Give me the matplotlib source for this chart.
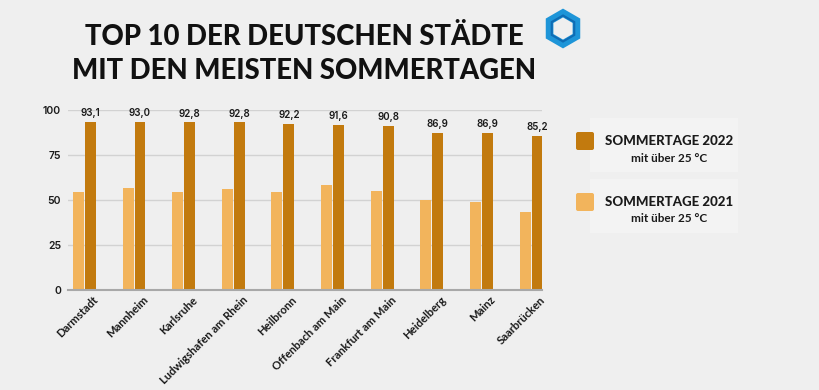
import numpy as np
import matplotlib
matplotlib.use("Agg")
import matplotlib.pyplot as plt
from matplotlib.patches import RegularPolygon, FancyBboxPatch, Rectangle

# data
cities = ["Darmstadt", "Mannheim", "Karlsruhe", "Ludwigshafen am Rhein", "Heilbronn",
          "Offenbach am Main", "Frankfurt am Main", "Heidelberg", "Mainz", "Saarbrücken"]
days_2022 = [93.1, 93.0, 92.8, 92.8, 92.2, 91.6, 90.8, 86.9, 86.9, 85.2]
days_2021 = [54.5, 56.5, 54.5, 56.0, 54.5, 58.0, 55.0, 50.0, 48.5, 43.0]
yticks = [0, 25, 50, 75, 100]

BG = "#efefef"
DARK = "#c27a0e"
LIGHT = "#f2b45c"
TXT = "#1a1a1a"

W, H = 820, 390
fig = plt.figure(figsize=(W / 100, H / 100), dpi=100, facecolor=BG)

def px(x0, y0, x1, y1):
    # pixel box -> figure fraction rect
    return [x0 / W, 1 - y1 / H, (x1 - x0) / W, (y1 - y0) / H]

ax = fig.add_axes(px(68, 109.5, 542, 290))
ax.set_facecolor(BG)

x = np.arange(len(cities))
bw = 0.22
ax.bar(x - bw / 2 - 0.01, days_2021, width=bw, color=LIGHT, zorder=3)
ax.bar(x + bw / 2 + 0.01, days_2022, width=bw, color=DARK, zorder=3)

for xi, v in zip(x, days_2022):
    ax.text(xi + bw / 2 + 0.01, v + 2.2, f"{v:.1f}".replace(".", ","),
            ha="center", va="bottom", fontsize=7, fontfamily="Inter",
            fontweight="semibold", color=TXT, clip_on=False)

ax.set_xlim(-0.33, 9.22)
ax.set_ylim(0, 100)
ax.set_yticks(yticks)
ax.set_yticklabels([str(t) for t in yticks], fontfamily="Inter",
                   fontweight="semibold", fontsize=7.5, color=TXT)
ax.yaxis.grid(True, color="#d2d2d2", linewidth=1, zorder=0)
ax.tick_params(axis="y", length=0, pad=5)
ax.tick_params(axis="x", length=0, pad=3)
for s in ["top", "right", "left"]:
    ax.spines[s].set_visible(False)
ax.spines["bottom"].set_color("#a8a8a8")
ax.spines["bottom"].set_linewidth(1.5)
ax.spines["bottom"].set_zorder(4)

ax.set_xticks(x + 0.17)
ax.set_xticklabels(cities, rotation=45, ha="right", va="top",
                   rotation_mode="anchor", fontfamily="Lato",
                   fontweight="bold", fontsize=8.1, color=TXT)

# title
fig.text(304 / W, 1 - 37 / H, "TOP 10 DER DEUTSCHEN STÄDTE", ha="center", va="center",
         fontsize=19.8, fontfamily="Lato", fontweight="black", color="#111111")
fig.text(304 / W, 1 - 71 / H, "MIT DEN MEISTEN SOMMERTAGEN", ha="center", va="center",
         fontsize=19.8, fontfamily="Lato", fontweight="black", color="#111111")

# logo
lg = fig.add_axes([0, 0, 1, 1], facecolor="none")
lg.set_xlim(0, W)
lg.set_ylim(H, 0)
lg.axis("off")
lg.add_patch(RegularPolygon((563, 28.5), 6, radius=15.5, orientation=0,
                            facecolor="none", edgecolor="#1e95d8", linewidth=5.5))
lg.add_patch(RegularPolygon((563, 28.5), 6, radius=13, orientation=0,
                            facecolor="none", edgecolor="#0f6cb4", linewidth=1.5))

# legend
legend_items = [("SOMMERTAGE 2022", DARK, 141), ("SOMMERTAGE 2021", LIGHT, 202)]
for label, col, yc in legend_items:
    lg.add_patch(Rectangle((590, yc - 23), 148, 54, facecolor="#f3f3f3", edgecolor="none"))
    lg.add_patch(FancyBboxPatch((576, yc - 9), 18, 18,
                                boxstyle="round,pad=0,rounding_size=2",
                                facecolor=col, edgecolor="none"))
    lg.text(669, yc, label, ha="center", va="center", fontsize=9.5,
            fontfamily="Lato", fontweight="black", color=TXT)
    lg.text(669, yc + 17, "mit über 25 °C", ha="center", va="center", fontsize=8.5,
            fontfamily="Lato", fontweight="bold", color=TXT)

fig.savefig("out.png", dpi=100, facecolor=BG)
